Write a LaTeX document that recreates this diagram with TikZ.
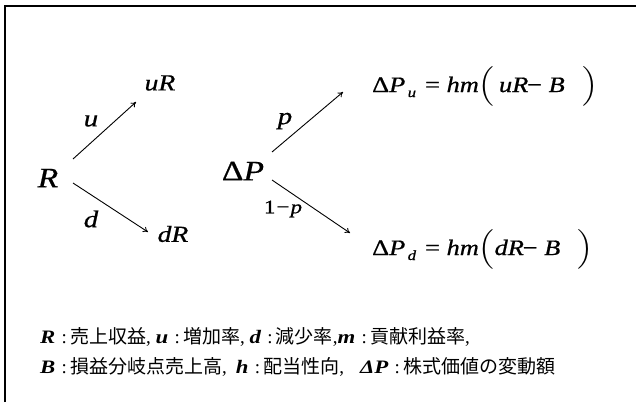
\documentclass[tikz,border=0pt]{standalone}
\usepackage{mathptmx}
\usepackage{fontspec}
\setmainfont{Liberation Serif}
\newfontfamily\cjk{Noto Sans CJK JP}
\newfontfamily\mfam[FakeBold=0.6]{Liberation Serif}
\usetikzlibrary{arrows.meta}
\newcommand\wideit[1]{\scalebox{1.2}[1]{#1}}
\newcommand\varit[1]{{\mfam\itshape #1}}
\newcommand\varrm[1]{{\mfam #1}}
\newcommand\legvar[1]{\wideit{\bfseries\itshape #1}}
\newcommand\clsep{\,\,:\,}
\tikzset{
  arr/.style={line width=0.9pt,-{To[length=5pt,width=6pt]}},
  big/.style={inner sep=0pt,font=\fontsize{28}{32}\selectfont},
  mid/.style={inner sep=0pt,font=\fontsize{23}{27}\selectfont},
  lbl/.style={inner sep=0pt,font=\fontsize{24}{28}\selectfont},
  eqn/.style={inner sep=0pt,anchor=base west,font=\fontsize{22}{26}\selectfont},
  legend/.style={inner sep=0pt,anchor=base west,font=\fontsize{19}{22}\selectfont},
  frame/.style={line width=1.4pt}
}
\begin{document}
\begin{tikzpicture}[x=1pt,y=-1pt]
\useasboundingbox (0,0) rectangle (636,402);
\fill[white] (0,0) rectangle (636,402);
\draw[frame] (5,402) |- (636,6);

% left tree
\node[big] (R) at (48,178) {\wideit{\varit{R}}};
\node[mid] (uR) at (160,83) {\wideit{\varit{uR}}};
\node[mid] (dR) at (173,234) {\wideit{\varit{dR}}};
\node[lbl] (u) at (91,121) {\wideit{\varit{u}}};
\node[lbl] (d) at (91,219) {\wideit{\varit{d}}};
\coordinate (r1) at (73,159);
\coordinate (r2) at (73,183);
\coordinate (ue) at (136,102);
\coordinate (de) at (148,232);
\draw[arr] (r1) -- (ue);
\draw[arr] (r2) -- (de);

% right tree
\node[big] (P) at (243,171) {\wideit{\varrm{Δ}\varit{P}}};
\node[lbl] (p) at (285,121) {\wideit{\varit{p}}};
\node[inner sep=0pt,font=\fontsize{19}{22}\selectfont] (q) at (283,209) {\wideit{\varrm{1}\kern1pt\varrm{−}\kern1pt\varit{p}}};
\coordinate (p1) at (272,152);
\coordinate (p2) at (272,180);
\coordinate (pe) at (343,92);
\coordinate (qe) at (350,233);
\draw[arr] (p1) -- (pe);
\draw[arr] (p2) -- (qe);
\node[eqn] (Pu) at (372,92) {\wideit{\varrm{Δ}\varit{P}\kern2pt\raisebox{-5pt}{\fontsize{14}{14}\selectfont\varit{u}}\kern2pt\ \varrm{=}\ \varit{hm}$\Bigl($\,\varit{uR}\kern-1pt\varrm{−}\ \varit{B}\ \ \,$\Bigr)$}};
\node[eqn] (Pd) at (372,255) {\wideit{\varrm{Δ}\varit{P}\kern2pt\raisebox{-5pt}{\fontsize{14}{14}\selectfont\varit{d}}\kern2pt\ \varrm{=}\ \varit{hm}$\Bigl($\varit{dR}\kern-1pt\varrm{−}\ \varit{B}\ \ \,$\Bigr)$}};

% legend
\node[legend] (L1) at (40,343) {\legvar{R}\clsep{\cjk 売上収益}, \legvar{u}\clsep{\cjk 増加率}, \legvar{d}\clsep{\cjk 減少率},\legvar{m}\clsep{\cjk 貢献利益率},};
\node[legend] (L2) at (40,373) {\legvar{B}\clsep{\cjk 損益分岐点売上高},\hspace{9pt}\legvar{h}\clsep{\cjk 配当性向},\hspace{16pt}\legvar{ΔP}\clsep{\cjk 株式価値の変動額}};
\end{tikzpicture}
\end{document}
